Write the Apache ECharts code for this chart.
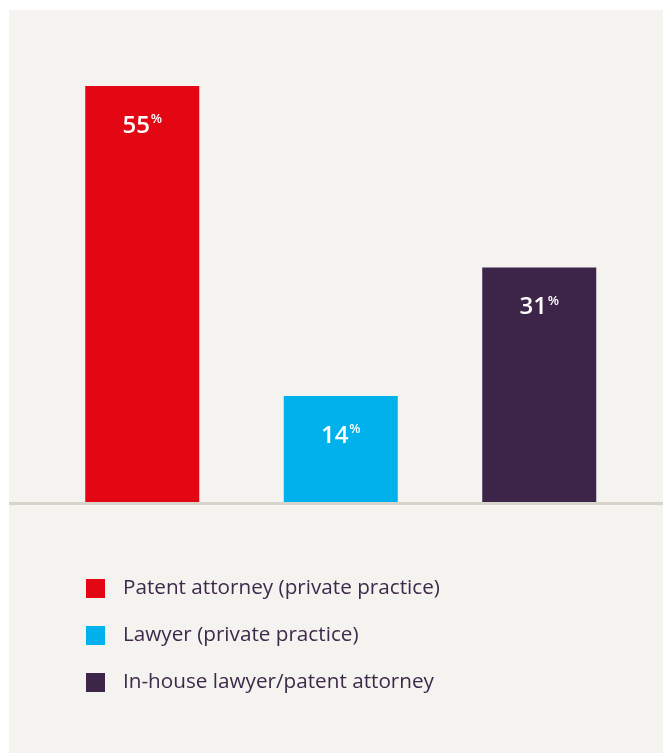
<!DOCTYPE html>
<html>
<head>
<meta charset="utf-8">
<script src="https://cdn.jsdelivr.net/npm/echarts@6/dist/echarts.min.js"></script>
<style>
  html, body { margin: 0; padding: 0; background: #fff; }
  #chart { width: 663px; height: 753px; }
</style>
</head>
<body>
<div id="chart"></div>
<script>
const categories = ['Patent attorney (private practice)', 'Lawyer (private practice)', 'In-house lawyer/patent attorney']
const values = [55, 14, 31]
const colors = ['#e30613', '#00b1eb', '#3d2449']

// one series per category so the legend gets its own entry
const series = categories.map((name, i) => ({
  name: name,
  type: 'bar',
  stack: 'all',
  barWidth: 114,
  itemStyle: { color: colors[i] },
  data: values.map((v, j) => (j === i ? v : '-')),
  label: {
    show: true,
    position: 'insideTop',
    distance: 27,
    formatter: (p) => '{n|' + p.value + '}{p|%}',
    rich: {
      n: { fontSize: 24, fontWeight: 600, color: '#fff', fontFamily: 'Open Sans', lineHeight: 26 },
      p: { fontSize: 13, fontWeight: 600, color: '#fff', fontFamily: 'Open Sans', verticalAlign: 'top', lineHeight: 14, padding: [0, 0, 0, 1] },
    },
  },
}))

const option = {
  backgroundColor: '#fff',
  animation: false,
  grid: { left: 43, right: 24.5, top: 48.2, bottom: 251 },
  xAxis: {
    type: 'category',
    data: categories,
    axisLine: { show: false },
    axisTick: { show: false },
    axisLabel: { show: false },
  },
  yAxis: {
    type: 'value',
    min: 0,
    max: 60,
    show: false,
  },
  legend: {
    orient: 'vertical',
    left: 86,
    top: 578,
    padding: 0,
    itemWidth: 19,
    itemHeight: 19,
    itemGap: 26,
    icon: 'rect',
    data: categories,
    textStyle: {
      fontFamily: 'Open Sans',
      fontSize: 20.7,
      color: '#3d2a4b',
      lineHeight: 19,
      padding: [0, 0, 0, 13],
    },
  },
  graphic: [
    {
      type: 'rect',
      z: -10,
      silent: true,
      shape: { x: 9, y: 10, width: 654, height: 743 },
      style: { fill: '#f4f3ef' },
    },
    {
      type: 'rect',
      z: 100,
      silent: true,
      shape: { x: 9, y: 502, width: 654, height: 3 },
      style: { fill: '#d7d5cb' },
    },
  ],
  series: series,
}

const myChart = echarts.init(document.getElementById('chart'))
myChart.setOption(option)
</script>
</body>
</html>
